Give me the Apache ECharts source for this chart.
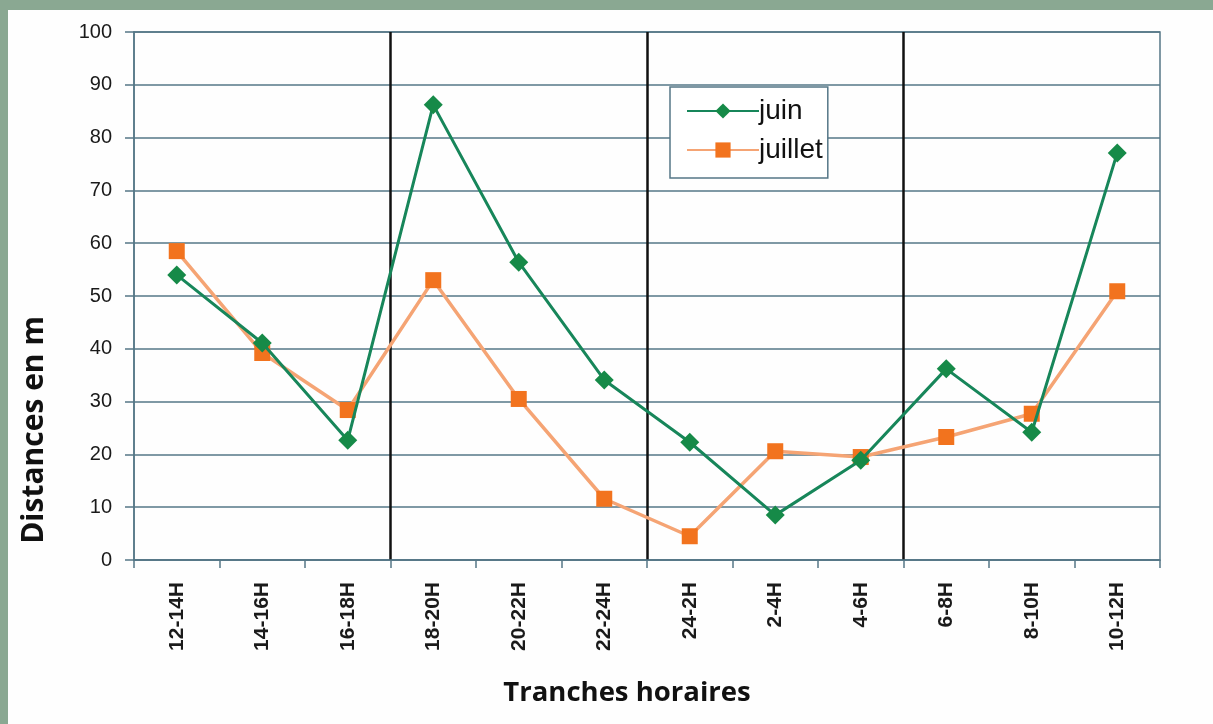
<!DOCTYPE html>
<html>
<head>
<meta charset="utf-8">
<script src="https://cdn.jsdelivr.net/npm/echarts@6/dist/echarts.min.js"></script>
<style>
html,body{margin:0;padding:0;background:#8aa892;}
#wrap{position:absolute;left:8px;top:10px;right:0;bottom:0;background:#fefefe;}
#chart{position:absolute;left:-8px;top:-10px;width:1213px;height:724px;}
</style>
</head>
<body>
<div id="wrap"><div id="chart"></div></div>
<script>
const categories = ['12-14H','14-16H','16-18H','18-20H','20-22H','22-24H','24-2H','2-4H','4-6H','6-8H','8-10H','10-12H'];
const juin = [54.0, 41.1, 22.7, 86.2, 56.4, 34.1, 22.3, 8.5, 18.9, 36.2, 24.2, 77.1];
const juillet = [58.5, 39.2, 28.4, 53.0, 30.5, 11.6, 4.5, 20.6, 19.5, 23.3, 27.7, 50.9];
const yTicks = [0, 10, 20, 30, 40, 50, 60, 70, 80, 90, 100];
const xTitle = 'Tranches horaires';
const yTitle = 'Distances en m';

const gridColor = '#557787';
const chart = echarts.init(document.getElementById('chart'), null, {renderer: 'canvas'});
chart.setOption({
  animation: false,
  backgroundColor: 'transparent',
  grid: {left: 134, right: 53, top: 32, bottom: 164, show: true, borderColor: gridColor, borderWidth: 1.5, backgroundColor: 'transparent'},
  legend: {
    left: 670, top: 87, orient: 'vertical',
    borderColor: gridColor, borderWidth: 1.5, backgroundColor: '#fff',
    padding: [10, 5, 14, 16], itemGap: 11,
    itemWidth: 72, itemHeight: 19,
    textStyle: {fontFamily: 'Liberation Sans', fontSize: 28, color: '#111', padding: [0, 0, 0, -5]},
    data: ['juin', 'juillet']
  },
  graphic: [
    {type: 'text', x: 34, y: 430, rotation: Math.PI / 2, silent: true,
     style: {text: yTitle, fontFamily: 'Open Sans', fontWeight: 'bold', fontSize: 30, fill: '#111', textAlign: 'center', textVerticalAlign: 'middle'}},
    {type: 'text', x: 627, y: 693, silent: true,
     style: {text: xTitle, fontFamily: 'Open Sans', fontWeight: 'bold', fontSize: 27.5, fill: '#111', textAlign: 'center', textVerticalAlign: 'middle'}}
  ],
  xAxis: [{
    type: 'category', data: categories, boundaryGap: true,
    axisLine: {lineStyle: {color: gridColor, width: 1.5}},
    axisTick: {show: true, length: 8, lineStyle: {color: gridColor, width: 1.5}},
    axisLabel: {rotate: 90, margin: 22, fontFamily: 'Liberation Sans', fontWeight: 'bold', fontSize: 21, color: '#1a1a1a'},
    splitLine: {show: false}
  }, {
    type: 'value', min: 0, max: 12, interval: 3, position: 'bottom',
    axisLine: {show: false}, axisTick: {show: false}, axisLabel: {show: false},
    splitLine: {show: true, lineStyle: {color: ['rgba(0,0,0,0)', '#111', '#111', '#111', 'rgba(0,0,0,0)'], width: 2.5}}
  }],
  yAxis: {
    type: 'value', min: 0, max: 100, interval: 10,
    axisLine: {show: true, lineStyle: {color: gridColor, width: 1.5}},
    axisTick: {show: true, length: 9, inside: false, lineStyle: {color: gridColor, width: 1.5}},
    axisLabel: {margin: 22, fontFamily: 'Liberation Sans', fontSize: 20, color: '#1a1a1a',
      formatter: function (v) { return yTicks.indexOf(v) >= 0 ? String(v) : ''; }},
    splitLine: {show: true, lineStyle: {color: gridColor, width: 1.5}}
  },
  series: [
    {name: 'juin', type: 'line', data: juin, symbol: 'diamond', symbolSize: 19,
     lineStyle: {color: '#17865a', width: 3}, itemStyle: {color: '#168a48'}, z: 3},
    {name: 'juillet', type: 'line', data: juillet, symbol: 'rect', symbolSize: 16,
     lineStyle: {color: '#f5a474', width: 3.5}, itemStyle: {color: '#f2731e'}, z: 2}
  ]
});
</script>
</body>
</html>
